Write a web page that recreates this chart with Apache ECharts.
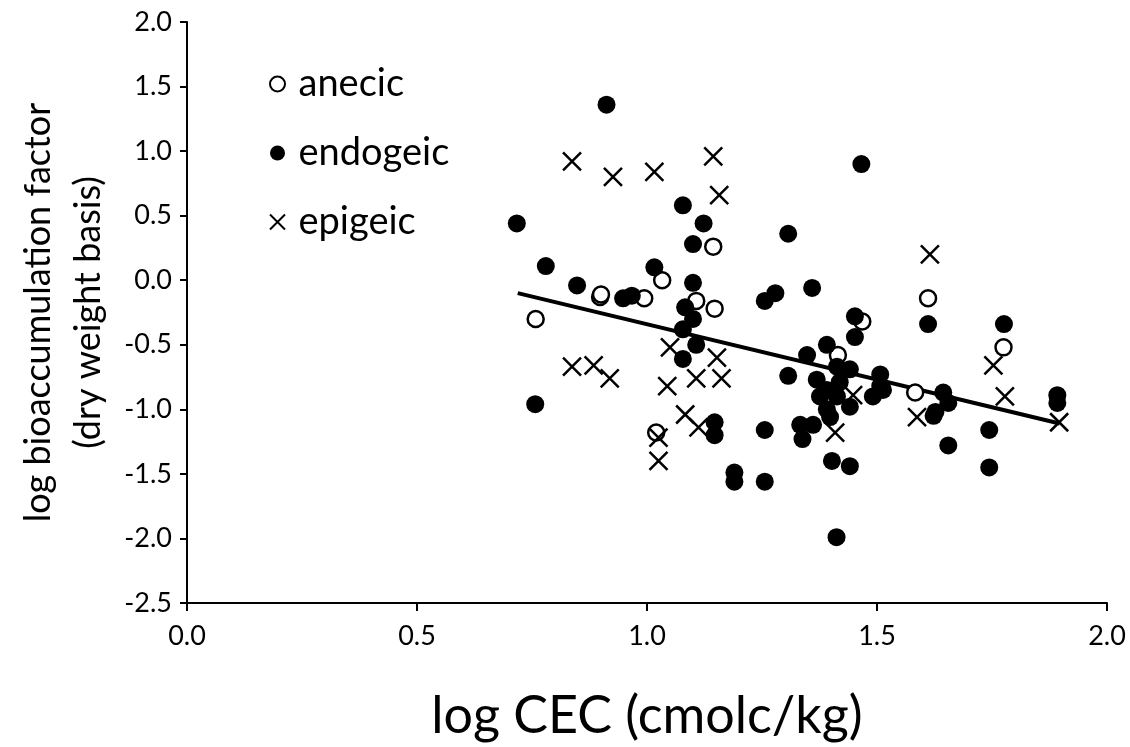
<!DOCTYPE html>
<html>
<head>
<meta charset="utf-8">
<script src="https://cdn.jsdelivr.net/npm/echarts@6/dist/echarts.min.js"></script>
<style>
  html, body { margin: 0; padding: 0; background: #fff; }
  #main { width: 1130px; height: 747px; }
</style>
</head>
<body>
<div id="main"></div>
<script>
// values: [log CEC, log BAF]
const anecic = [
  [0.758, -0.30], [0.898, -0.13], [0.900, -0.11], [0.994, -0.14], [1.033, 0.00],
  [1.107, -0.16], [1.147, -0.22], [1.144, 0.26], [1.020, -1.18], [1.415, -0.58],
  [1.468, -0.32], [1.583, -0.87], [1.611, -0.14], [1.775, -0.52]
];

const endogeic = [
  [0.717, 0.44], [0.780, 0.11], [0.848, -0.04], [0.757, -0.96], [0.912, 1.36],
  [0.948, -0.14], [0.967, -0.12], [1.016, 0.10], [1.078, 0.58], [1.123, 0.44],
  [1.100, 0.28], [1.100, -0.02], [1.083, -0.21], [1.100, -0.30], [1.078, -0.38],
  [1.107, -0.50], [1.078, -0.61], [1.147, -1.10], [1.147, -1.20], [1.190, -1.49],
  [1.190, -1.56], [1.256, -0.16], [1.279, -0.10], [1.307, 0.36], [1.359, -0.06],
  [1.466, 0.90], [1.256, -1.16], [1.256, -1.56], [1.307, -0.74], [1.348, -0.58],
  [1.333, -1.12], [1.338, -1.23], [1.361, -1.12], [1.391, -0.50], [1.452, -0.28],
  [1.452, -0.44], [1.369, -0.77], [1.391, -0.85], [1.413, -0.67], [1.441, -0.69],
  [1.419, -0.79], [1.391, -1.00], [1.376, -0.90], [1.413, -0.90], [1.441, -0.98],
  [1.398, -1.06], [1.402, -1.40], [1.441, -1.44], [1.412, -1.99], [1.507, -0.73],
  [1.507, -0.82], [1.491, -0.90], [1.513, -0.85], [1.611, -0.34], [1.776, -0.34],
  [1.644, -0.87], [1.655, -0.95], [1.627, -1.02], [1.623, -1.05], [1.744, -1.16],
  [1.655, -1.28], [1.744, -1.45], [1.892, -0.89], [1.892, -0.95]
];

const epigeic = [
  [0.837, 0.92], [0.926, 0.80], [1.016, 0.84], [1.144, 0.96], [1.157, 0.66],
  [0.837, -0.67], [0.884, -0.66], [0.919, -0.76], [1.050, -0.52], [1.152, -0.60],
  [1.044, -0.82], [1.107, -0.76], [1.162, -0.76], [1.083, -1.04], [1.112, -1.14],
  [1.025, -1.22], [1.025, -1.40], [1.448, -0.89], [1.409, -1.18], [1.587, -1.06],
  [1.615, 0.20], [1.753, -0.66], [1.778, -0.90], [1.896, -1.10]
];

// ends of the fitted line as drawn
const trend = [[0.719, -0.10], [1.897, -1.11]];

const xTicks = [0, 2, 0.5];      // min, max, step
const yTicks = [-2.5, 2.0, 0.5];

const cross = 'path://M0,0L20,20M20,0L0,20';
const font = 'Lato, "Open Sans", sans-serif';

const chart = echarts.init(document.getElementById('main'), null, { renderer: 'canvas' });

const option = {
  animation: false,
  backgroundColor: '#fff',
  textStyle: { fontFamily: font, color: '#000' },
  grid: { left: 187, right: 23, top: 22, bottom: 144 },
  legend: {
    data: ['anecic', 'endogeic', 'epigeic'],
    orient: 'vertical',
    left: 264,
    top: 59,
    itemWidth: 32,
    itemHeight: 15,
    itemGap: 29,
    textStyle: { fontFamily: font, fontSize: 38, lineHeight: 40, color: '#000' }
  },
  xAxis: {
    type: 'value',
    min: xTicks[0], max: xTicks[1], interval: xTicks[2],
    name: 'log CEC (cmolc/kg)',
    nameLocation: 'middle',
    nameGap: 87,
    nameTextStyle: { fontFamily: font, fontSize: 52, color: '#000' },
    axisLine: { onZero: false, lineStyle: { color: '#000', width: 2 } },
    axisTick: { show: true, length: 8, lineStyle: { color: '#000', width: 2 } },
    axisLabel: { fontSize: 27, color: '#000', margin: 20, formatter: v => v.toFixed(1) },
    splitLine: { show: false }
  },
  yAxis: {
    type: 'value',
    min: yTicks[0], max: yTicks[1], interval: yTicks[2],
    name: 'log bioaccumulation factor\n(dry weight basis)',
    nameLocation: 'middle',
    nameRotate: 90,
    nameGap: 73,
    nameTextStyle: { fontFamily: font, fontSize: 36, lineHeight: 50, color: '#000' },
    axisLine: { show: true, onZero: false, lineStyle: { color: '#000', width: 2 } },
    axisTick: { show: true, length: 7, lineStyle: { color: '#000', width: 2 } },
    axisLabel: { fontSize: 27, color: '#000', margin: 15, formatter: v => v.toFixed(1) },
    splitLine: { show: false }
  },
  series: [
    {
      name: 'trend',
      type: 'line',
      data: trend,
      symbol: 'none',
      lineStyle: { color: '#000', width: 4 },
      z: 1
    },
    {
      name: 'anecic',
      type: 'scatter',
      data: anecic,
      symbol: 'circle',
      symbolSize: 16,
      itemStyle: { color: '#fff', borderColor: '#000', borderWidth: 2.5, opacity: 1 },
      z: 2
    },
    {
      name: 'endogeic',
      type: 'scatter',
      data: endogeic,
      symbol: 'circle',
      symbolSize: 18,
      itemStyle: { color: '#000', opacity: 1 },
      z: 3
    },
    {
      name: 'epigeic',
      type: 'scatter',
      data: epigeic,
      symbol: cross,
      symbolSize: 18,
      itemStyle: { color: '#000', borderColor: '#000', borderWidth: 2.5, opacity: 1 },
      z: 4
    }
  ]
};

option && chart.setOption(option);
</script>
</body>
</html>
